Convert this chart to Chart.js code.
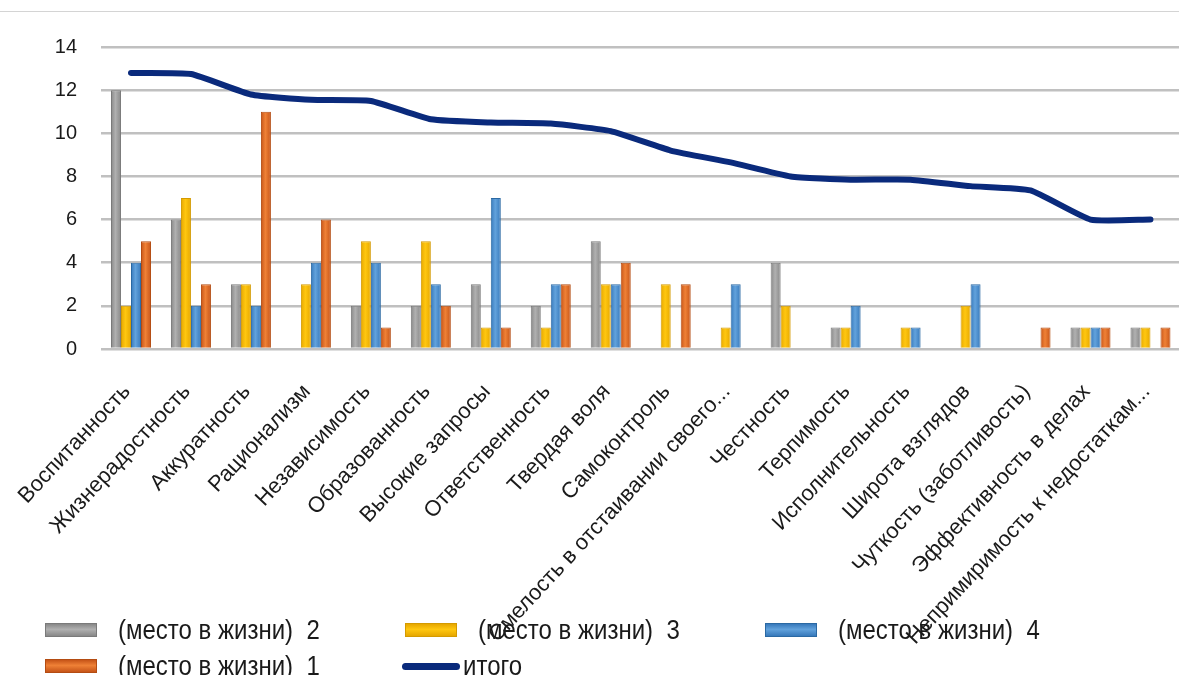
<!DOCTYPE html>
<html>
<head>
<meta charset="utf-8">
<script src="https://cdn.jsdelivr.net/npm/chart.js@4.4.1/dist/chart.umd.min.js"></script>
<style>
  html, body { margin: 0; padding: 0; background: #fff; }
  #wrap { position: relative; width: 1179px; height: 675px; overflow: hidden; }
  #frame { position: absolute; left: 0; top: 11px; width: 1179px; border-top: 1px solid #d4d4d4; }
  #box { position: absolute; left: 0; top: 0; width: 1192px; height: 675px; }
  #legend { position: absolute; left: 0; top: 0; width: 1179px; height: 675px; pointer-events: none; }
  .item { position: absolute; display: flex; align-items: center; height: 30px;
          font-family: "Liberation Sans", Arial, sans-serif; font-size: 24px; color: #1a1a1a; white-space: pre; }
  .item .tx { display: inline-block; transform: scaleY(1.12); transform-origin: 50% 55%; }
  .sw { width: 52px; height: 14px; box-sizing: border-box; margin-right: 21px; }
  .ln { width: 58px; height: 7px; border-radius: 4px; margin-right: 3px; }
</style>
</head>
<body>
<div id="wrap">
  <div id="frame"></div>
  <div id="box"><canvas id="c" width="1192" height="675"></canvas></div>
  <div id="legend"></div>
</div>
<script>
// Личностные качества (категории оси X)
const categories = [
  'Воспитанность', 'Жизнерадостность', 'Аккуратность', 'Рационализм', 'Независимость',
  'Образованность', 'Высокие запросы', 'Ответственность', 'Твердая воля', 'Самоконтроль',
  'Смелость в отстаивании своего...', 'Честность', 'Терпимость', 'Исполнительность',
  'Широта взглядов', 'Чуткость (заботливость)', 'Эффективность в делах',
  'Непримиримость к недостаткам...'
];

// Число выборов по местам в жизни
const place2 = [12, 6, 3, 0, 2, 2, 3, 2, 5, 0, 0, 4, 1, 0, 0, 0, 1, 1];
const place3 = [2, 7, 3, 3, 5, 5, 1, 1, 3, 3, 1, 2, 1, 1, 2, 0, 1, 1];
const place4 = [4, 2, 2, 4, 4, 3, 7, 3, 3, 0, 3, 0, 2, 1, 3, 0, 1, 0];
const place1 = [5, 3, 11, 6, 1, 2, 1, 3, 4, 3, 0, 0, 0, 0, 0, 1, 1, 1];
const total  = [12.8, 12.75, 11.8, 11.55, 11.5, 10.65, 10.5, 10.45, 10.1, 9.2, 8.65, 8.0, 7.85, 7.85, 7.55, 7.35, 6.0, 6.0];

// Подписи рядов и шкала значений
const seriesNames = ['(место в жизни)  2', '(место в жизни)  3', '(место в жизни)  4', '(место в жизни)  1', 'итого'];
const yTicks = [0, 2, 4, 6, 8, 10, 12, 14];

// Цвета рядов: [край, середина, обводка]
const shades = [
  ['#888888', '#b0b0b0', '#7a7a7a'],
  ['#e6a700', '#ffc710', '#d49a00'],
  ['#3779bb', '#62a2dc', '#2b69a3'],
  ['#c65418', '#ef8136', '#b44c12']
];
const lineColor = '#0a2a7c';

// Поперечный градиент для каждого столбца
const barGradient = {
  id: 'barGradient',
  beforeDatasetDraw(chart, args) {
    const ds = chart.data.datasets[args.index];
    if (ds.type !== 'bar') return;
    const sh = shades[args.index];
    const ctx = chart.ctx;
    args.meta.data.forEach(el => {
      const x0 = el.x - el.width / 2, x1 = el.x + el.width / 2;
      if (!isFinite(x0) || x1 - x0 <= 0) return;
      const g = ctx.createLinearGradient(x0, 0, x1, 0);
      g.addColorStop(0, sh[0]);
      g.addColorStop(0.45, sh[1]);
      g.addColorStop(1, sh[0]);
      el.options = Object.assign({}, el.options, { backgroundColor: g });
    });
  }
};

const barSet = (label, data, i) => ({
  type: 'bar', label, data,
  backgroundColor: shades[i][1], borderColor: shades[i][2], borderWidth: 1,
  barPercentage: 1.0, categoryPercentage: 0.667, order: 2
});

const chart = new Chart(document.getElementById('c'), {
  data: {
    labels: categories,
    datasets: [
      barSet(seriesNames[0], place2, 0),
      barSet(seriesNames[1], place3, 1),
      barSet(seriesNames[2], place4, 2),
      barSet(seriesNames[3], place1, 3),
      {
        type: 'line', label: seriesNames[4], data: total,
        borderColor: lineColor, backgroundColor: lineColor, borderWidth: 6,
        pointRadius: 0, tension: 0.15, borderCapStyle: 'round', borderJoinStyle: 'round',
        fill: false, order: 1
      }
    ]
  },
  options: {
    responsive: false,
    animation: false,
    layout: { padding: { top: 47, right: 8, left: 0, bottom: 0 } },
    plugins: { legend: { display: false }, tooltip: { enabled: false } },
    scales: {
      x: {
        grid: { display: false },
        border: { display: false },
        ticks: {
          autoSkip: false, minRotation: 47, maxRotation: 47,
          padding: 22, labelOffset: -4,
          color: '#1a1a1a',
          font: { family: '"Liberation Sans", Arial, sans-serif', size: 22 }
        },
        afterFit(scale) { scale.height = 326; }
      },
      y: {
        min: 0, max: 14,
        afterBuildTicks(scale) { scale.ticks = yTicks.map(v => ({ value: v })); },
        grid: { color: '#c0c0c0', lineWidth: 2.5, drawTicks: false },
        border: { display: false },
        ticks: {
          padding: 24, color: '#1a1a1a',
          font: { family: '"Liberation Sans", Arial, sans-serif', size: 20 }
        },
        afterFit(scale) { scale.width = 101; }
      }
    }
  },
  plugins: [barGradient]
});

// Легенда в две строки
const legendPos = [
  [45, 615], [405, 615], [765, 615], [45, 651], [402, 651]
];
const legend = document.getElementById('legend');
chart.data.datasets.forEach((ds, i) => {
  const it = document.createElement('div');
  it.className = 'item';
  it.style.left = legendPos[i][0] + 'px';
  it.style.top = legendPos[i][1] + 'px';
  const sw = document.createElement('span');
  if (ds.type === 'bar') {
    sw.className = 'sw';
    sw.style.background = `linear-gradient(to bottom, ${shades[i][0]}, ${shades[i][1]} 45%, ${shades[i][0]})`;
    sw.style.border = `1px solid ${shades[i][2]}`;
  } else {
    sw.className = 'ln';
    sw.style.background = ds.borderColor;
  }
  const tx = document.createElement('span');
  tx.className = 'tx';
  tx.textContent = ds.label;
  it.appendChild(sw);
  it.appendChild(tx);
  legend.appendChild(it);
});
</script>
</body>
</html>
